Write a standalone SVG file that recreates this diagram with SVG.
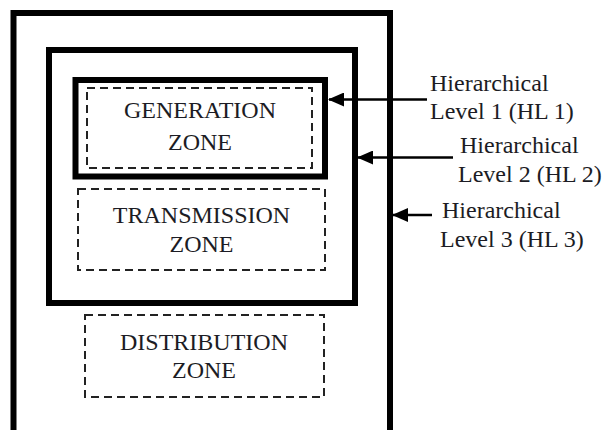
<svg xmlns="http://www.w3.org/2000/svg" width="608" height="430" viewBox="0 0 608 430">
<style>
.box{fill:none;stroke:#000;stroke-width:6}
.zone{fill:none;stroke:#222;stroke-width:2;stroke-dasharray:8 5}
text{font-family:"Liberation Serif","Times New Roman",serif;font-size:24px;fill:#1c1c24}
.c{text-anchor:middle}
.conn{stroke:#000;stroke-width:2.5;fill:none}
</style>
<defs>
<marker id="ah" markerWidth="16" markerHeight="14" refX="15" refY="7" orient="auto" markerUnits="userSpaceOnUse">
<path d="M0,0 L16,7 L0,14 Z" fill="#000"/>
</marker>
</defs>
<rect width="608" height="430" fill="#fff"/>
<g id="hl3"><rect class="box" x="13.5" y="13" width="376.5" height="425" stroke-width="5"/></g>
<g id="hl2"><rect class="box" x="49" y="50" width="306" height="253"/></g>
<g id="hl1"><rect class="box" x="75.5" y="80" width="249.5" height="96.5"/></g>
<g id="generation">
<rect class="zone" x="87" y="88" width="225" height="80"/>
<text class="c" x="200" y="118">GENERATION</text>
<text class="c" x="200" y="150">ZONE</text>
</g>
<g id="transmission">
<rect class="zone" x="78" y="189" width="247" height="81"/>
<text class="c" x="201.5" y="223">TRANSMISSION</text>
<text class="c" x="201.5" y="252">ZONE</text>
</g>
<g id="distribution">
<rect class="zone" x="85" y="315" width="239" height="82"/>
<text class="c" x="204" y="350">DISTRIBUTION</text>
<text class="c" x="204" y="378">ZONE</text>
</g>
<g id="label1">
<text x="430" y="91">Hierarchical</text>
<text x="430" y="119">Level 1 (HL 1)</text>
</g>
<g id="label2">
<text x="460" y="153">Hierarchical</text>
<text x="458" y="182">Level 2 (HL 2)</text>
</g>
<g id="label3">
<text x="442" y="218">Hierarchical</text>
<text x="440" y="247">Level 3 (HL 3)</text>
</g>
<g id="connectors">
<line class="conn" x1="427" y1="99.5" x2="329" y2="99.5" marker-end="url(#ah)"/>
<line class="conn" x1="453" y1="157.5" x2="358" y2="157.5" marker-end="url(#ah)"/>
<line class="conn" x1="432" y1="215" x2="393" y2="215" marker-end="url(#ah)"/>
</g>
</svg>
